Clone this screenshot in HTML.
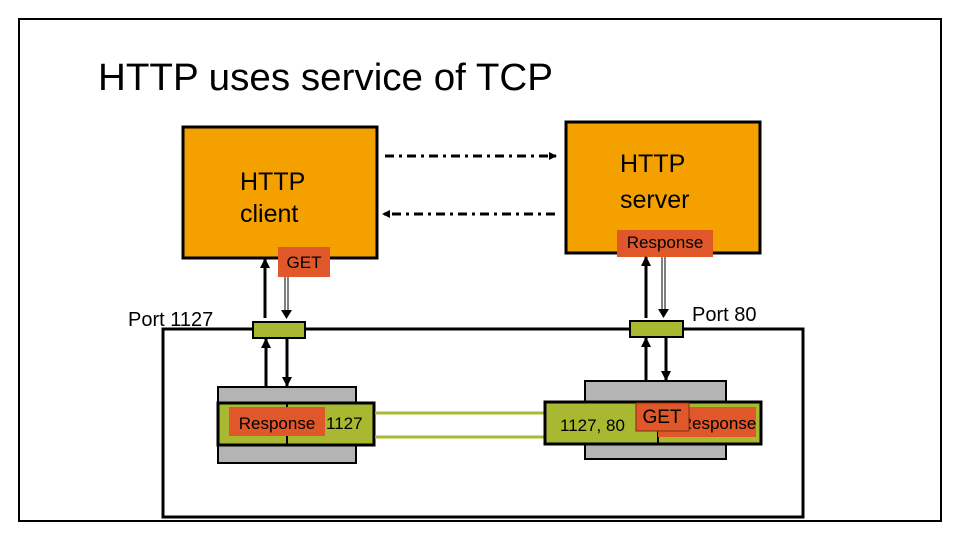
<!DOCTYPE html>
<html><head><meta charset="utf-8"><style>html,body{margin:0;padding:0;background:#fff}svg{display:block}</style></head>
<body>
<svg width="960" height="540" viewBox="0 0 960 540" xmlns="http://www.w3.org/2000/svg" font-family="Liberation Sans, Arial, sans-serif">
<defs>
<marker id="ah" markerWidth="8" markerHeight="8" refX="7" refY="4" orient="auto" markerUnits="userSpaceOnUse"><path d="M0,0 L8,4 L0,8 Z" fill="#000"/></marker>
<marker id="ahs" markerWidth="10" markerHeight="10" refX="9" refY="5" orient="auto" markerUnits="userSpaceOnUse"><path d="M0,0 L10,5 L0,10 Z" fill="#000"/></marker>
</defs>
<rect x="19" y="19" width="922" height="502" fill="none" stroke="#000" stroke-width="2"/>
<text x="98" y="90" font-size="38" textLength="455" lengthAdjust="spacingAndGlyphs">HTTP uses service of TCP</text>

<rect x="183" y="127" width="194" height="131" fill="#F4A100" stroke="#000" stroke-width="3"/>
<text x="240" y="190" font-size="25">HTTP</text>
<text x="240" y="222" font-size="25">client</text>
<rect x="278" y="247" width="52" height="30" fill="#E0582A"/>
<text x="304" y="268" font-size="17" text-anchor="middle">GET</text>

<rect x="566" y="122" width="194" height="131" fill="#F4A100" stroke="#000" stroke-width="3"/>
<text x="620" y="172" font-size="25">HTTP</text>
<text x="620" y="208" font-size="25">server</text>
<rect x="617" y="230" width="96" height="27" fill="#E0582A"/>
<text x="665" y="248" font-size="17" text-anchor="middle">Response</text>

<line x1="385" y1="156" x2="556" y2="156" stroke="#000" stroke-width="3" stroke-dasharray="9,5,3,5" marker-end="url(#ah)"/>
<line x1="555" y1="214" x2="383" y2="214" stroke="#000" stroke-width="3" stroke-dasharray="9,5,3,5" marker-end="url(#ah)"/>

<rect x="163" y="329" width="640" height="188" fill="none" stroke="#000" stroke-width="3"/>
<text x="128" y="326" font-size="20">Port 1127</text>
<text x="692" y="321" font-size="20">Port 80</text>

<line x1="265" y1="318" x2="265" y2="259" stroke="#000" stroke-width="3" marker-end="url(#ahs)"/>
<line x1="285" y1="277" x2="285" y2="312" stroke="#000" stroke-width="1"/>
<line x1="288" y1="277" x2="288" y2="312" stroke="#000" stroke-width="1"/>
<path d="M281,310 L292,310 L286.5,319 Z" fill="#000"/>
<rect x="253" y="322" width="52" height="16" fill="#A8B830" stroke="#000" stroke-width="2"/>
<line x1="266" y1="386" x2="266" y2="339" stroke="#000" stroke-width="3" marker-end="url(#ahs)"/>
<line x1="287" y1="339" x2="287" y2="386" stroke="#000" stroke-width="3" marker-end="url(#ahs)"/>
<rect x="218" y="387" width="138" height="76" fill="#B4B4B4" stroke="#000" stroke-width="2"/>
<rect x="218" y="403" width="156" height="42" fill="#A8B830" stroke="#000" stroke-width="3"/>
<line x1="287" y1="403" x2="287" y2="445" stroke="#000" stroke-width="2"/>
<rect x="229" y="407" width="96" height="29" fill="#E0582A"/>
<text x="277" y="429" font-size="17" text-anchor="middle">Response</text>
<text x="326" y="429" font-size="17">1127</text>

<line x1="375" y1="413" x2="545" y2="413" stroke="#A8B830" stroke-width="3"/>
<line x1="375" y1="437" x2="545" y2="437" stroke="#A8B830" stroke-width="3"/>

<line x1="646" y1="318" x2="646" y2="257" stroke="#000" stroke-width="3" marker-end="url(#ahs)"/>
<line x1="662" y1="257" x2="662" y2="310" stroke="#000" stroke-width="1"/>
<line x1="665" y1="257" x2="665" y2="310" stroke="#000" stroke-width="1"/>
<path d="M658,309 L669,309 L663.5,318 Z" fill="#000"/>
<rect x="630" y="321" width="53" height="16" fill="#A8B830" stroke="#000" stroke-width="2"/>
<line x1="646" y1="380" x2="646" y2="338" stroke="#000" stroke-width="3" marker-end="url(#ahs)"/>
<line x1="666" y1="338" x2="666" y2="380" stroke="#000" stroke-width="3" marker-end="url(#ahs)"/>
<rect x="585" y="381" width="141" height="78" fill="#B4B4B4" stroke="#000" stroke-width="2"/>
<rect x="545" y="402" width="216" height="42" fill="#A8B830" stroke="#000" stroke-width="3"/>
<line x1="658" y1="402" x2="658" y2="444" stroke="#000" stroke-width="2"/>
<rect x="658" y="407" width="98" height="30" fill="#E0582A"/>
<text x="718" y="429" font-size="17" text-anchor="middle">Response</text>
<rect x="636" y="403" width="53" height="28" fill="#E0582A" stroke="#7a3010" stroke-width="1"/>
<text x="662" y="423" font-size="19" text-anchor="middle">GET</text>
<text x="560" y="431" font-size="17">1127, 80</text>
</svg>
</body></html>
